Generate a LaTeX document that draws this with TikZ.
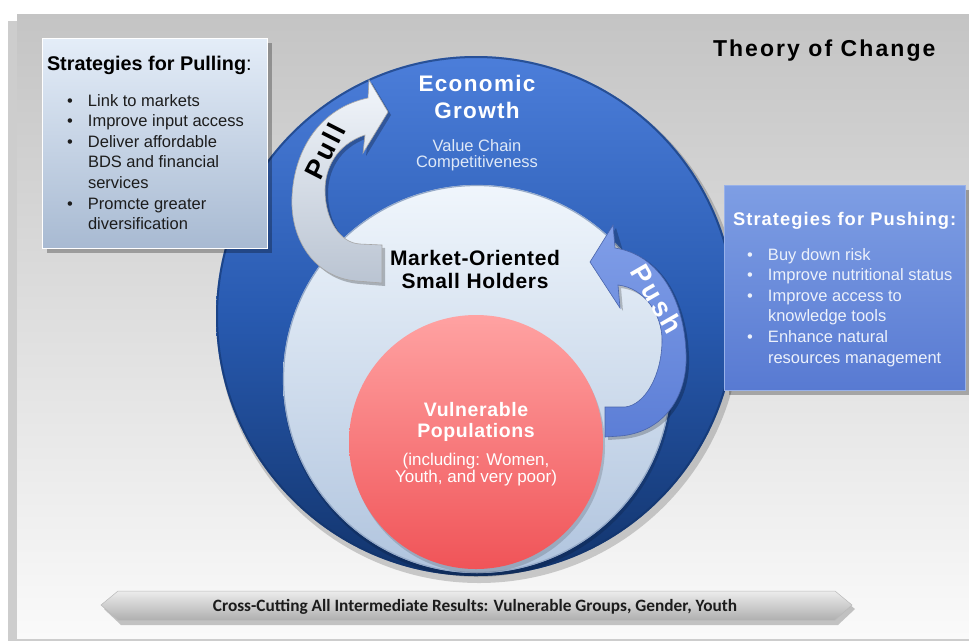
\documentclass[tikz,border=0pt]{standalone}
\usepackage{fontspec}
\setmainfont{Liberation Sans}
\newfontfamily\spA[LetterSpace=6]{Liberation Sans}
\newfontfamily\spB[LetterSpace=3]{Liberation Sans}
\newfontfamily\spT[LetterSpace=9]{Liberation Sans}
\newfontfamily\spW[LetterSpace=11]{Liberation Sans}
\newfontfamily\calfont{Carlito}
\definecolor{panelTop}{RGB}{196,196,196}
\definecolor{panelBot}{RGB}{250,250,250}
\definecolor{shadowgray}{RGB}{205,205,205}
\definecolor{oTop}{RGB}{76,126,218}
\definecolor{oMid}{RGB}{40,90,176}
\definecolor{oBot}{RGB}{18,52,108}
\definecolor{mTop}{RGB}{240,246,252}
\definecolor{mBot}{RGB}{176,196,222}
\definecolor{mEdge}{RGB}{150,170,200}
\definecolor{rTop}{RGB}{255,162,162}
\definecolor{rBot}{RGB}{240,84,88}
\definecolor{pbTop}{RGB}{228,237,248}
\definecolor{pbBot}{RGB}{168,186,210}
\definecolor{qbTop}{RGB}{126,158,228}
\definecolor{qbBot}{RGB}{88,122,210}
\definecolor{pullTop}{RGB}{242,246,251}
\definecolor{pullBot}{RGB}{186,196,210}
\definecolor{pushTop}{RGB}{128,158,232}
\definecolor{pushBot}{RGB}{92,126,214}
\definecolor{vcText}{RGB}{222,232,247}
\definecolor{pushText}{RGB}{236,241,251}
\definecolor{darkText}{RGB}{28,28,28}
\tikzset{
  shadowfill/.style={fill=black,opacity=0.28},
  boxtext/.style={anchor=base west,font=\fontsize{16.5}{20.6}\selectfont},
  centered/.style={anchor=base},
  arrowword/.style={font=\spW\bfseries\fontsize{27}{27}\selectfont},
}
\begin{document}
\begin{tikzpicture}[x=1pt,y=-1pt,every node/.style={inner sep=0pt,outer sep=0pt}]
\useasboundingbox (0,0) rectangle (969,641);
\fill[white] (0,0) rectangle (969,641);
% panel
\fill[shadowgray] (8,21) rectangle (969,641);
\shade[top color=panelTop,bottom color=panelBot] (17,13) rectangle (969,638);
\draw[white,line width=1pt] (17,13.5) -- (969,13.5);

% outer circle
\fill[black,opacity=0.18] (479,321) circle (262pt);
\shade[top color=oTop,bottom color=oBot,middle color=oMid] (476,316) circle (260pt);
\draw[oBot,opacity=0.6,line width=2pt] (476,316) circle (259pt);

% middle circle
\fill[black,opacity=0.15] (478,382) circle (195pt);
\shade[top color=mTop,bottom color=mBot] (477,379) circle (194pt);
\draw[mEdge,line width=1.2pt] (477,379) circle (193.5pt);

% red circle
\fill[black,opacity=0.15] (478,446) circle (127pt);
\shade[top color=rTop,bottom color=rBot] (476,442) circle (127pt);

% pull box
\fill[shadowfill] (47,43) rectangle (272,253);
\node[anchor=north west,minimum width=225pt,minimum height=210pt,
      top color=pbTop,bottom color=pbBot,draw=white,line width=0.8pt] (pullbox) at (42,38) {};
% push box
\fill[shadowfill] (729,190) rectangle (969,395);
\node[anchor=north west,minimum width=241pt,minimum height=205pt,
      top color=qbTop,bottom color=qbBot,draw=qbTop!80!white,line width=0.8pt] (pushbox) at (724,185) {};

% pull arrow
\fill[black,opacity=0.25]
  (385,286) -- (360,284) .. controls (318,281) and (293,243) .. (295,200)
  .. controls (297,153) and (323,111) .. (371,101) -- (372,83) -- (391,115) -- (366,156)
  -- (368,138) .. controls (338,148) and (328,173) .. (328,193)
  .. controls (328,223) and (343,246) .. (363,247) -- (385,248) -- cycle;
\shade[top color=pullTop,bottom color=pullBot,draw=gray!70,line width=0.6pt]
  (382,283) -- (357,281) .. controls (315,278) and (290,240) .. (292,197)
  .. controls (294,150) and (320,108) .. (368,98) -- (369,80) -- (388,112) -- (363,153)
  -- (365,135) .. controls (335,145) and (325,170) .. (325,190)
  .. controls (325,220) and (340,243) .. (360,244) -- (382,245) -- cycle;

% push arrow
\fill[black,opacity=0.22]
  (608,440) -- (623,439) .. controls (668,435) and (691,398) .. (689,356)
  .. controls (687,303) and (663,258) .. (623,251) -- (616,228) -- (593,265) -- (623,311)
  -- (621,288) .. controls (648,291) and (665,318) .. (665,343)
  .. controls (665,378) and (648,408) .. (628,410) -- (608,410) -- cycle;
\shade[top color=pushTop,bottom color=pushBot,draw=pushBot!80!black,line width=0.6pt]
  (605,437) -- (620,436) .. controls (665,432) and (688,395) .. (686,353)
  .. controls (684,300) and (660,255) .. (615,248) -- (613,225) -- (590,262) -- (620,308)
  -- (618,285) .. controls (645,288) and (662,315) .. (662,340)
  .. controls (662,375) and (645,405) .. (625,407) -- (605,407) -- cycle;

% banner
\fill[black,opacity=0.22] (104,609) -- (121,595) -- (838,595) -- (855,609) -- (838,625) -- (121,625) -- cycle;
\shade[top color=gray!15,middle color=gray!42,bottom color=gray!62,draw=gray!55,line width=0.5pt]
  (101,605) -- (118,591) -- (835,591) -- (852,605) -- (835,620) -- (118,620) -- cycle;

% texts
\node[anchor=base west,font=\spT\bfseries\fontsize{23}{26}\selectfont,text=black] (title) at (713,56) {Theory of Change};

\node[anchor=base west,font=\bfseries\fontsize{19.8}{23}\selectfont,text=black] (pulltitle) at (47,70) {Strategies for Pulling\mdseries:};
\node[boxtext,text=darkText] (pulllist) at (67,106) {\begin{tabular}[t]{@{}p{21pt}@{}l@{}}
\textbullet & Link to markets\\
\textbullet & Improve input access\\
\textbullet & Deliver affordable\\
 & BDS and financial\\
 & services\\
\textbullet & Promcte greater\\
 & diversification
\end{tabular}};

\node[anchor=base west,font=\spA\bfseries\fontsize{18.3}{22}\selectfont,text=white] (pushtitle) at (733,225) {Strategies for Pushing:};
\node[boxtext,text=pushText] (pushlist) at (747,260) {\begin{tabular}[t]{@{}p{21pt}@{}l@{}}
\textbullet & Buy down risk\\
\textbullet & Improve nutritional status\\
\textbullet & Improve access to\\
 & knowledge tools\\
\textbullet & Enhance natural\\
 & resources management
\end{tabular}};

\node[centered,font=\spA\bfseries\fontsize{22.5}{27}\selectfont,text=white] (econ1) at (477,91) {Economic};
\node[centered,font=\spA\bfseries\fontsize{22.5}{27}\selectfont,text=white] (econ2) at (477,118) {Growth};
\node[centered,font=\fontsize{16.5}{18}\selectfont,text=vcText] (vc1) at (477,151) {Value Chain};
\node[centered,font=\fontsize{16.5}{18}\selectfont,text=vcText] (vc2) at (477,167) {Competitiveness};

\node[centered,font=\spB\bfseries\fontsize{21}{24}\selectfont,text=black] (mos1) at (475,265) {Market-Oriented};
\node[centered,font=\spB\bfseries\fontsize{21}{24}\selectfont,text=black] (mos2) at (475,288) {Small Holders};

\node[centered,font=\spB\bfseries\fontsize{19.5}{22}\selectfont,text=white] (vul1) at (476,416) {Vulnerable};
\node[centered,font=\spB\bfseries\fontsize{19.5}{22}\selectfont,text=white] (vul2) at (476,437) {Populations};
\node[centered,font=\fontsize{17}{19}\selectfont,text=white] (vul3) at (476,465) {(including: Women,};
\node[centered,font=\fontsize{17}{19}\selectfont,text=white] (vul4) at (476,482) {Youth, and very poor)};

\node[centered,font=\calfont\bfseries\fontsize{17.3}{19}\selectfont,text=darkText] (banner) at (475,611) {Cross-Cutting All Intermediate Results: Vulnerable Groups, Gender, Youth};

\node[rotate=63,arrowword,text=black] (pullword) at (325,151) {Pull};
\node[rotate=-60,arrowword,text=white] (pushword) at (657,299) {Push};
\end{tikzpicture}
\end{document}
